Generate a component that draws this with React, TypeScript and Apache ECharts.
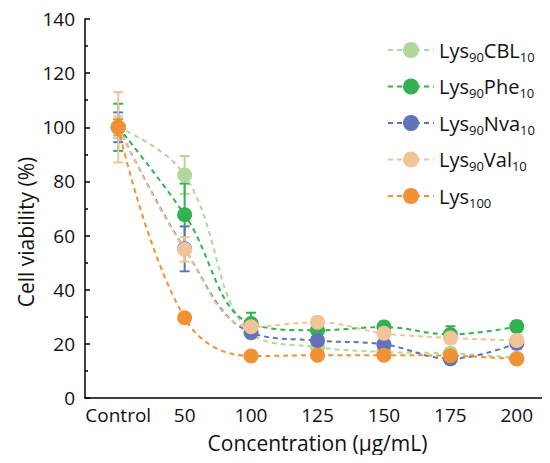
import React, { useEffect, useRef } from "react";
import * as echarts from "echarts";

const categories = ["Control", "50", "100", "125", "150", "175", "200"];
const seriesNames = ["Lys90CBL10", "Lys90Phe10", "Lys90Nva10", "Lys90Val10", "Lys100"];
const legendRich = [
  "{m|Lys}{s|90}{m|CBL}{s|10}",
  "{m|Lys}{s|90}{m|Phe}{s|10}",
  "{m|Lys}{s|90}{m|Nva}{s|10}",
  "{m|Lys}{s|90}{m|Val}{s|10}",
  "{m|Lys}{s|100}",
];
const colors = ["#b3d69c", "#33b150", "#6271bb", "#f0c498", "#f29132"];

const cblValues = [100, 82.4, 24.0, 18.8, 17.0, 16.5, 14.8];
const pheValues = [100, 67.7, 27.5, 25.0, 26.2, 23.5, 26.4];
const nvaValues = [100, 55.1, 24.2, 21.2, 19.8, 14.5, 20.2];
const valValues = [100, 54.9, 26.3, 28.0, 23.9, 22.2, 21.2];
const lys100Values = [100, 29.6, 15.5, 15.8, 15.8, 15.6, 14.4];

const cblErrors = [4, 7, 2, 2, 2, 2, 1.5];
const pheErrors = [8.7, 11.5, 4, 2.5, 2, 3, 2];
const nvaErrors = [5.5, 8.3, 2, 2.5, 2, 2, 2];
const valErrors = [13, 4.5, 2, 2, 2, 2, 2];
const lys100Errors = [3, 1.5, 1, 1.5, 1.5, 1.5, 1.5];

const allValues = [cblValues, pheValues, nvaValues, valValues, lys100Values];
const allErrors = [cblErrors, pheErrors, nvaErrors, valErrors, lys100Errors];

const FONT = "Open Sans";
const TEXT = "#111";

export default function App() {
  const ref = useRef<HTMLDivElement>(null);
  useEffect(() => {
    if (!ref.current) return;
    const chart = echarts.init(ref.current, null, { renderer: "svg" });
    const series: any[] = [];
    allValues.forEach((vals, i) => {
      series.push({
        type: "custom",
        name: seriesNames[i] + "_err",
        z: 1,
        silent: true,
        data: vals.map((v, j) => [j, v, allErrors[i][j]]),
        renderItem: (params: any, api: any) => {
          const x = api.value(0);
          const y = api.value(1);
          const e = api.value(2);
          const top = api.coord([x, y + e]);
          const bot = api.coord([x, y - e]);
          const hw = 5;
          const style = { stroke: colors[i], lineWidth: 2 };
          return {
            type: "group",
            children: [
              { type: "line", shape: { x1: top[0], y1: top[1], x2: bot[0], y2: bot[1] }, style },
              { type: "line", shape: { x1: top[0] - hw, y1: top[1], x2: top[0] + hw, y2: top[1] }, style },
              { type: "line", shape: { x1: bot[0] - hw, y1: bot[1], x2: bot[0] + hw, y2: bot[1] }, style },
            ],
          };
        },
      });
    });
    allValues.forEach((vals, i) => {
      series.push({
        type: "line",
        name: seriesNames[i],
        z: 2 + i,
        data: vals,
        smooth: 0.4,
        symbol: "circle",
        symbolSize: 15,
        itemStyle: { color: colors[i] },
        lineStyle: { color: colors[i], width: 2, type: [5, 4] },
      });
    });
    const rich = {
      m: { fontFamily: FONT, fontSize: 20, color: TEXT, lineHeight: 26, verticalAlign: "middle" },
      s: { fontFamily: FONT, fontSize: 13, color: TEXT, lineHeight: 26, verticalAlign: "bottom" },
    };
    chart.setOption({
      animation: false,
      backgroundColor: "#fff",
      grid: { left: 85, top: 19, width: 471, bottom: 65 },
      legend: {
        orient: "vertical",
        left: 382,
        top: 35,
        itemWidth: 46,
        itemHeight: 20,
        itemGap: 13.5,
        data: seriesNames,
        formatter: (name: string) => legendRich[seriesNames.indexOf(name)],
        textStyle: { rich },
      },
      graphic: [
        {
          type: "text",
          x: 26,
          y: 232,
          rotation: Math.PI / 2,
          style: {
            text: "Cell viability (%)",
            fontFamily: FONT,
            fontSize: 21,
            fill: TEXT,
            align: "center",
            verticalAlign: "middle",
          },
        },
      ],
      xAxis: {
        type: "category",
        data: categories,
        boundaryGap: true,
        name: "Concentration (μg/mL)",
        nameLocation: "middle",
        nameGap: 34,
        nameTextStyle: { fontFamily: FONT, fontSize: 21, color: TEXT },
        axisLine: { lineStyle: { color: "#000", width: 1.5 } },
        axisTick: { inside: true, alignWithLabel: true, length: 5, lineStyle: { color: "#000", width: 1.5 } },
        axisLabel: { interval: 0, fontFamily: FONT, fontSize: 19, color: TEXT, margin: 7 },
        splitLine: { show: false },
      },
      yAxis: {
        type: "value",
        min: 0,
        max: 140,
        interval: 20,
        axisLine: { show: true, lineStyle: { color: "#000", width: 1.5 } },
        axisTick: { show: true, inside: true, length: 5, lineStyle: { color: "#000", width: 1.5 } },
        minorTick: { show: true, splitNumber: 2, length: 3, lineStyle: { color: "#000", width: 1.5 } },
        axisLabel: { fontFamily: FONT, fontSize: 19, color: TEXT, margin: 10 },
        splitLine: { show: false },
      },
      series,
    });
    return () => chart.dispose();
  }, []);
  return <div ref={ref} style={{ width: 550, height: 463, margin: -8 }} />;
}
